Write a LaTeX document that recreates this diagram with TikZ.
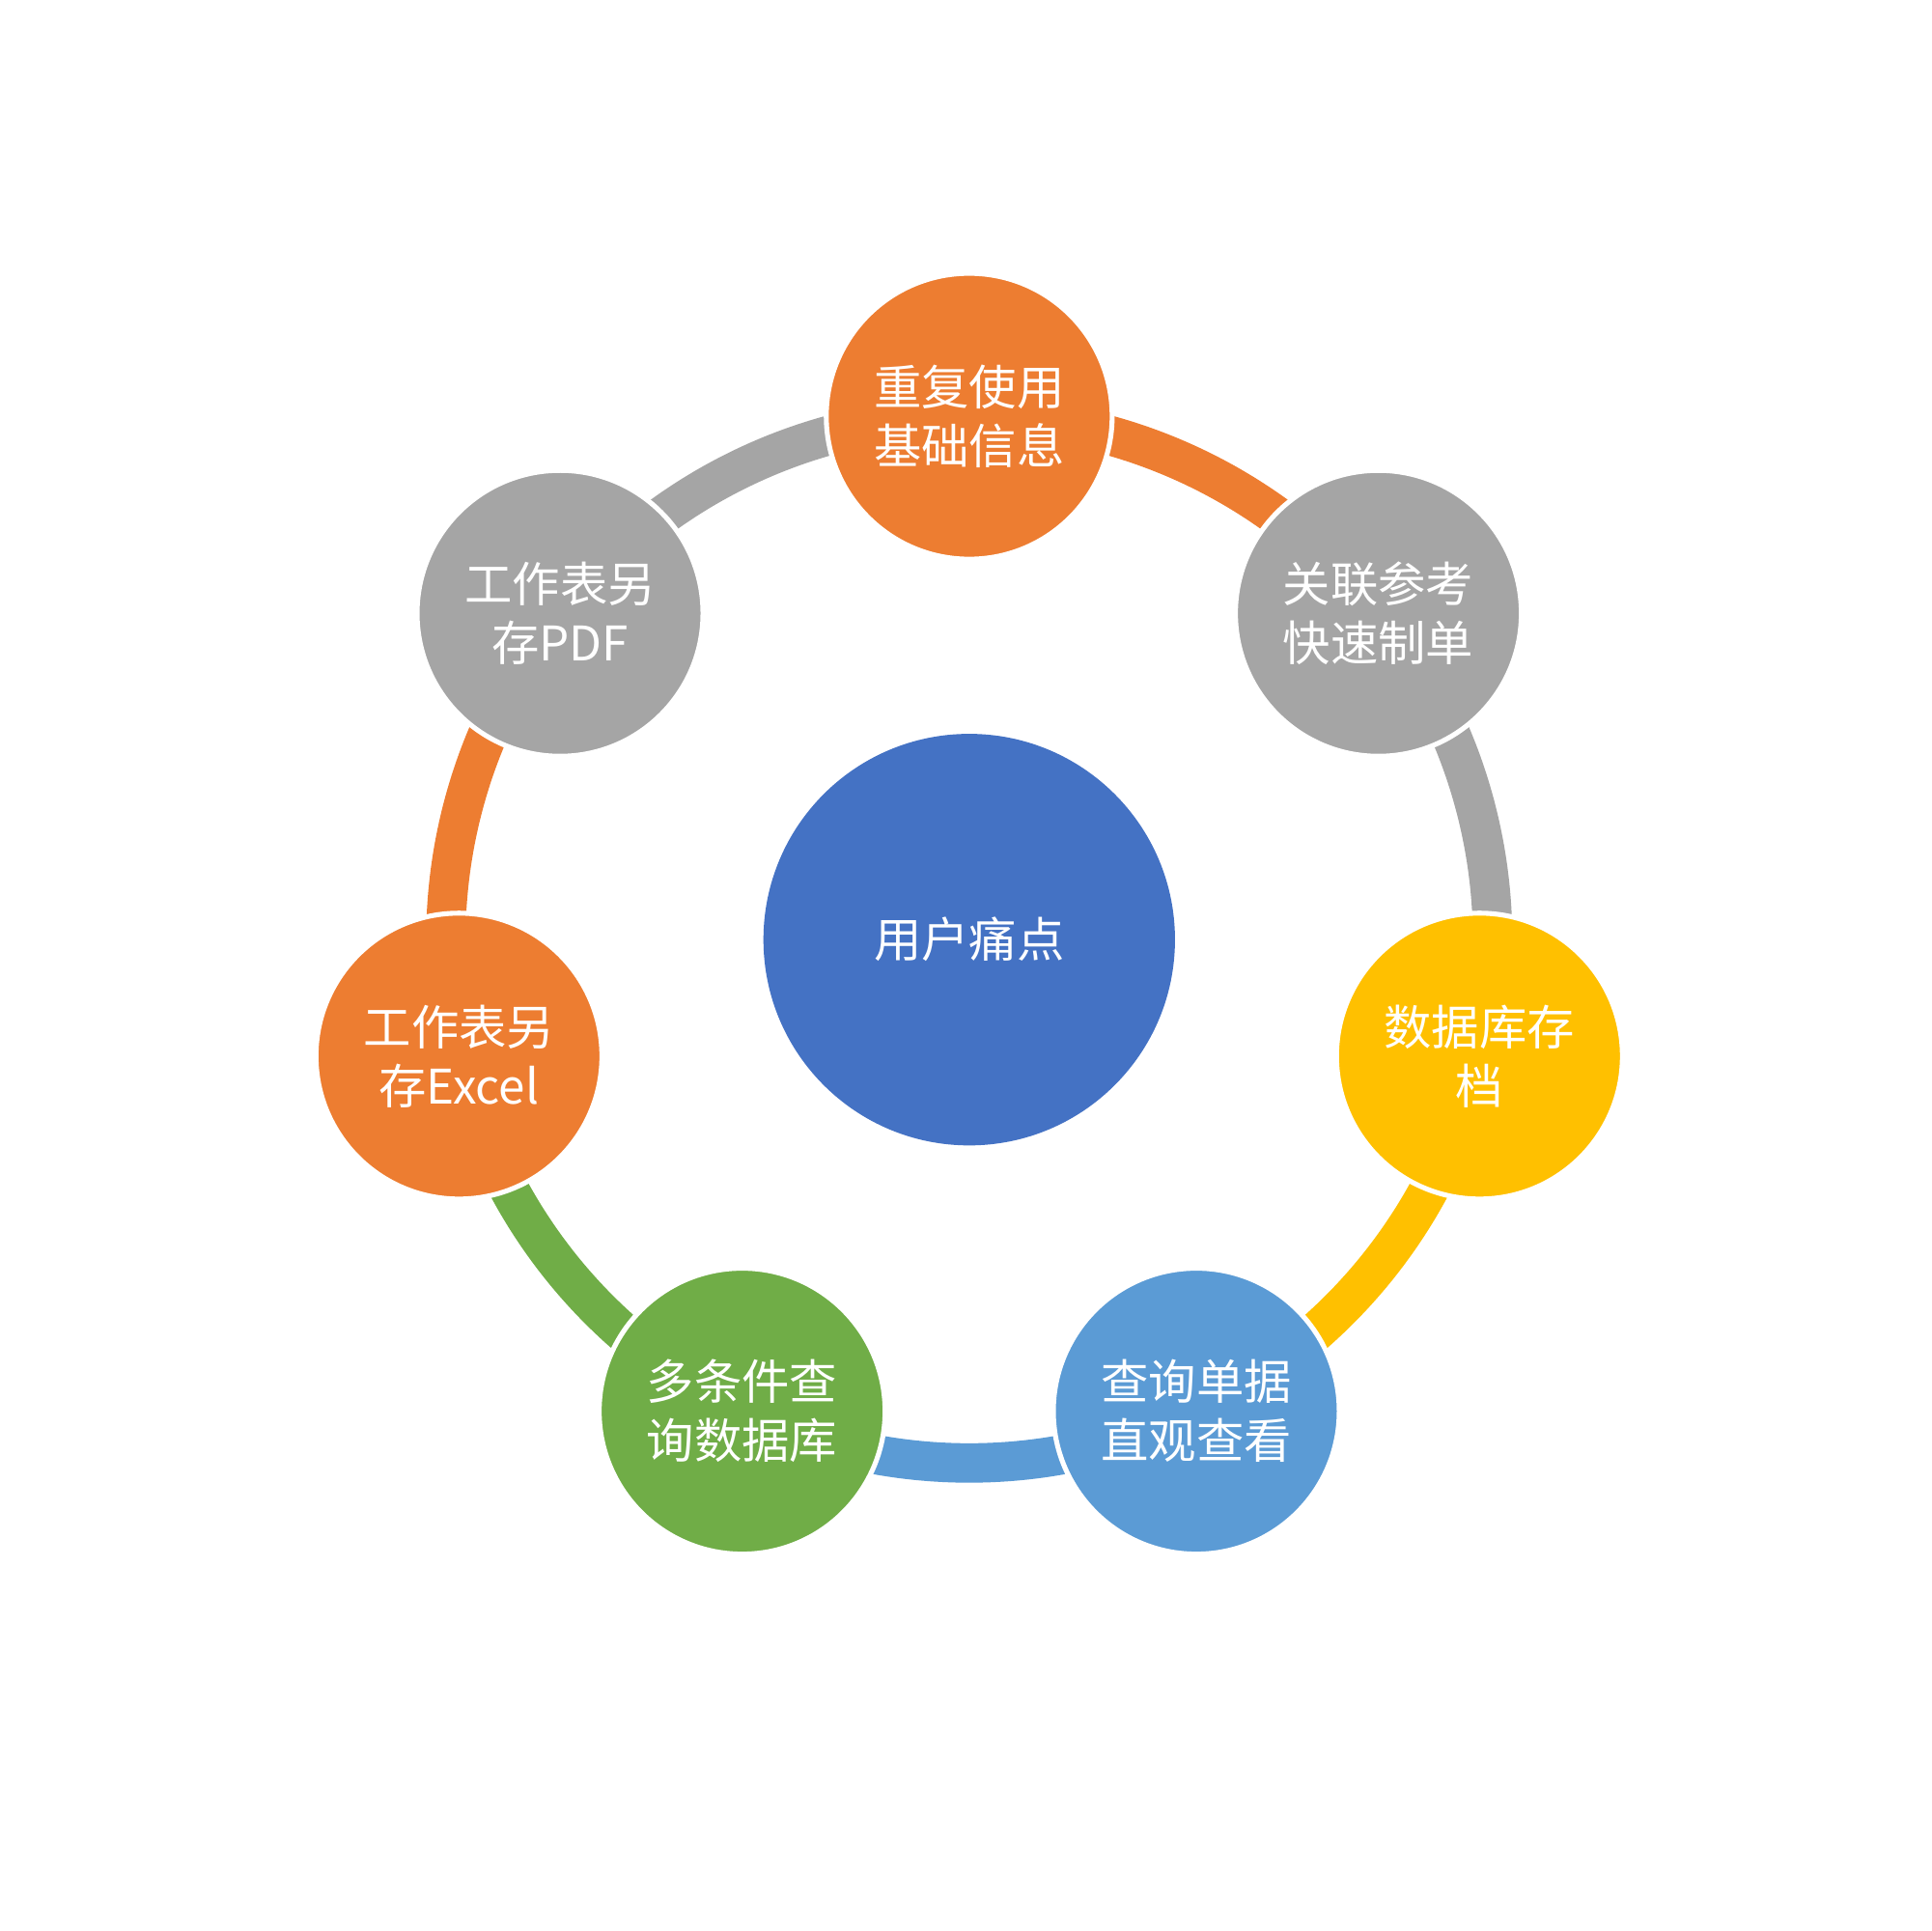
\documentclass[tikz,border=0pt]{standalone}
\usepackage{fontspec}
\usetikzlibrary{calc}
\setmainfont{Noto Sans CJK SC}
\definecolor{cor}{HTML}{ED7D31}
\definecolor{cgr}{HTML}{A5A5A5}
\definecolor{cye}{HTML}{FFC000}
\definecolor{cbl}{HTML}{5B9BD5}
\definecolor{cgn}{HTML}{70AD47}
\definecolor{cce}{HTML}{4472C4}
\begin{document}
\begin{tikzpicture}[x=0.01cm,y=0.01cm,
  ringnode/.style={circle,draw=white,line width=0.04cm,minimum size=2.32cm,inner sep=0pt,text=white,align=center,font=\fontsize{11}{13.6}\selectfont},
  seg/.style={line width=0.32cm}]
\useasboundingbox (0,0) rectangle (1568,1568);
\coordinate (c) at (787,805);
\foreach \i/\col in {0/cor,1/cgr,2/cye,3/cbl,4/cgn,5/cor,6/cgr}{
  \pgfmathsetmacro{\a}{90-\i*360/7}
  \draw[seg,\col] ($(c)+(\a:425)$) arc[start angle=\a,end angle=\a-360/7,radius=425];
}
\node[circle,fill=cce,minimum size=3.34cm,text=white,font=\fontsize{11}{13.6}\selectfont] (center) at (c) {用户痛点};
\node[ringnode,fill=cor] (n1) at ($(c)+(90:425)$) {重复使用\\基础信息};
\node[ringnode,fill=cgr] (n2) at ($(c)+({90-360/7}:425)$) {关联参考\\快速制单};
\node[ringnode,fill=cye] (n3) at ($(c)+({90-2*360/7}:425)$) {数据库存\\档};
\node[ringnode,fill=cbl] (n4) at ($(c)+({90-3*360/7}:425)$) {查询单据\\直观查看};
\node[ringnode,fill=cgn] (n5) at ($(c)+({90-4*360/7}:425)$) {多条件查\\询数据库};
\node[ringnode,fill=cor] (n6) at ($(c)+({90-5*360/7}:425)$) {工作表另\\存Excel};
\node[ringnode,fill=cgr] (n7) at ($(c)+({90-6*360/7}:425)$) {工作表另\\存PDF};
\end{tikzpicture}
\end{document}
